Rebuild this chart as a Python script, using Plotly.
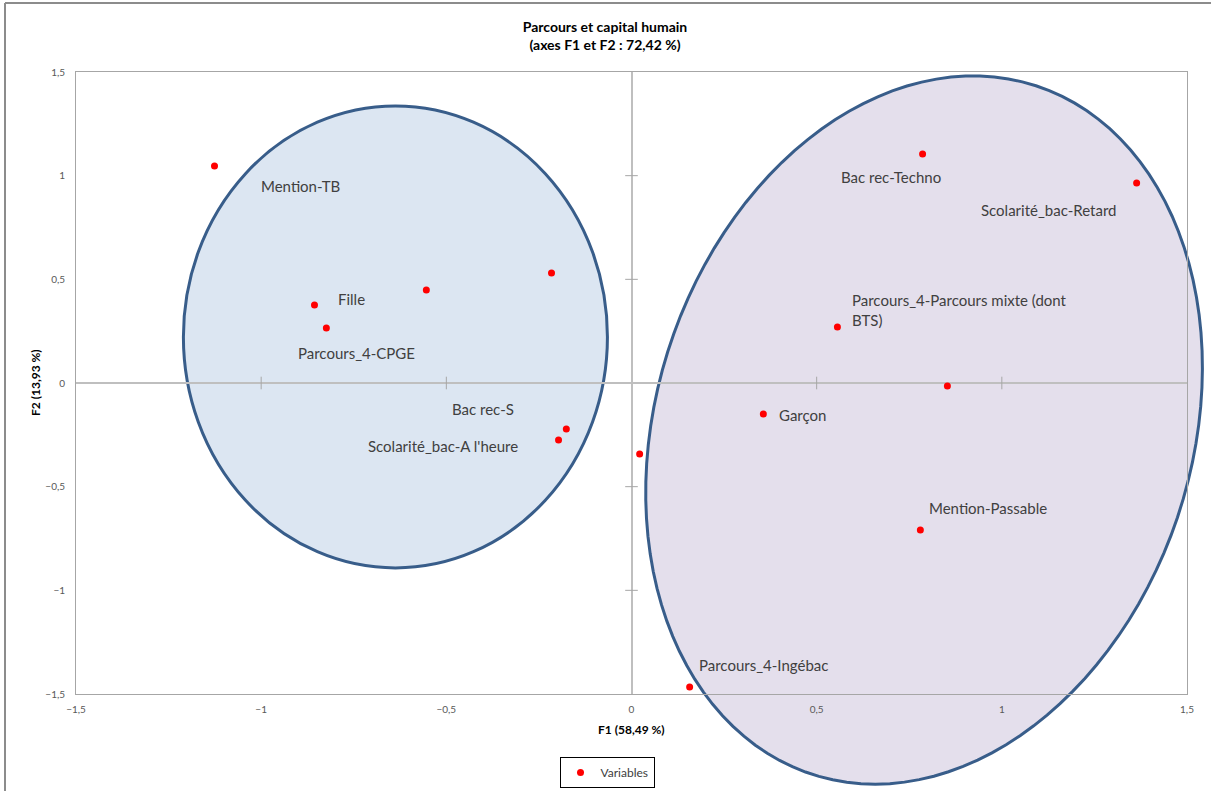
import numpy as np
import plotly.graph_objects as go

# Coordonnées des variables (F1, F2)
var_f1 = [-1.126, -0.856, -0.824, -0.554, -0.216, -0.176, -0.197, 0.022,
          0.356, 0.556, 0.853, 0.780, 0.786, 1.364, 0.157]
var_f2 = [1.047, 0.376, 0.265, 0.449, 0.531, -0.222, -0.275, -0.342,
          -0.150, 0.270, -0.014, -0.709, 1.105, 0.965, -1.466]

# Étiquettes (texte libre, positionné à la main comme dans Excel)
label_text = ["Mention-TB", "Fille", "Parcours_4-CPGE", "Bac rec-S",
              "Scolarité_bac-A l'heure", "Bac rec-Techno", "Scolarité_bac-Retard",
              "Parcours_4-Parcours mixte (dont<br>BTS)", "Garçon",
              "Mention-Passable", "Parcours_4-Ingébac"]
label_x = [-1.005, -0.799, -0.905, -0.491, -0.718, 0.559, 0.937, 0.591, 0.392, 0.799, 0.178]
label_y = [0.950, 0.405, 0.145, -0.125, -0.304, 0.994, 0.835, 0.350, -0.154, -0.603, -1.360]

tick_vals = [-1.5, -1, -0.5, 0, 0.5, 1, 1.5]
cross_ticks = [-1, -0.5, 0.5, 1]

FONT = "Lato, 'Open Sans', sans-serif"
TEXT_COL = "#404040"
EDGE = "#385D8A"

# géométrie de la zone de tracé (px)
W, H = 1211, 791
ML, MR, MT, MB = 76, 24, 72, 97
PW, PH = W - ML - MR, H - MT - MB


def to_px(x, y):
    px = ML + (x + 1.5) / 3 * PW
    py = MT + (1.5 - y) / 3 * PH
    return px, py


def px_to_paper(px, py):
    return (px - ML) / PW, (H - MB - py) / PH


def ellipse_path(cx, cy, a, b, tilt_deg, n=120):
    # ellipse inclinée définie en pixels, renvoyée en coordonnées "paper"
    cxp, cyp = to_px(cx, cy)
    phi = np.radians(tilt_deg)
    t = np.linspace(0, 2 * np.pi, n)
    ux, uy = np.sin(phi), -np.cos(phi)
    vx, vy = np.cos(phi), np.sin(phi)
    px = cxp + a * np.cos(t) * ux + b * np.sin(t) * vx
    py = cyp + a * np.cos(t) * uy + b * np.sin(t) * vy
    xs, ys = px_to_paper(px, py)
    pts = [f"{x:.5f},{y:.5f}" for x, y in zip(xs, ys)]
    return "M " + " L ".join(pts) + " Z"


fig = go.Figure()

# petites graduations sur les axes qui passent par zéro
fig.add_trace(go.Scatter(
    x=[0] * len(cross_ticks), y=cross_ticks, mode='markers',
    marker=dict(symbol='line-ew', size=9, line=dict(color='#A6A6A6', width=1)),
    showlegend=False, hoverinfo='skip'
))
fig.add_trace(go.Scatter(
    x=cross_ticks, y=[0] * len(cross_ticks), mode='markers',
    marker=dict(symbol='line-ns', size=9, line=dict(color='#A6A6A6', width=1)),
    showlegend=False, hoverinfo='skip'
))

fig.add_trace(go.Scatter(
    x=var_f1, y=var_f2, mode='markers', name='Variables',
    marker=dict(color='#FF0000', size=7, line=dict(width=0)),
))

# bordure du graphique Excel (seuls le haut et la gauche sont visibles)
bx0, by0 = px_to_paper(5, 3)
bx1, by1 = px_to_paper(W + 20, H + 20)

shapes = [
    # cercle bleu (groupe de gauche)
    dict(type='circle', xref='x', yref='y', x0=-1.210, x1=-0.065, y0=-0.892, y1=1.336,
         fillcolor='#DCE6F2', line=dict(color=EDGE, width=3), layer='below'),
    # ellipse violette (groupe de droite), déborde de la zone de tracé
    dict(type='path', xref='paper', yref='paper',
         path=ellipse_path(0.790, -0.227, 362, 268, 18),
         fillcolor='#E4DFEC', line=dict(color=EDGE, width=3), layer='below'),
    dict(type='line', xref='paper', yref='paper', x0=bx0, x1=bx1, y0=by0, y1=by0,
         line=dict(color='#8C8C8C', width=2)),
    dict(type='line', xref='paper', yref='paper', x0=bx0, x1=bx0, y0=by0, y1=by1,
         line=dict(color='#8C8C8C', width=2)),
]

annotations = [
    dict(x=x, y=y, xref='x', yref='y', text=t, showarrow=False,
         xanchor='left', yanchor='middle', align='left',
         font=dict(family=FONT, size=15, color=TEXT_COL))
    for t, x, y in zip(label_text, label_x, label_y)
]
ax_x, ax_y = px_to_paper(631, 729)
annotations.append(dict(x=ax_x, y=ax_y, xref='paper', yref='paper',
                        xanchor='center', yanchor='middle',
                        text='<b>F1 (58,49 %)</b>', showarrow=False,
                        font=dict(family=FONT, size=12, color='#000000')))
ay_x, ay_y = px_to_paper(35, 383)
annotations.append(dict(x=ay_x, y=ay_y, xref='paper', yref='paper',
                        xanchor='center', yanchor='middle',
                        text='<b>F2 (13,93 %)</b>', showarrow=False, textangle=-90,
                        font=dict(family=FONT, size=12, color='#000000')))

axis_common = dict(
    range=[-1.5, 1.5], tickmode='array', tickvals=tick_vals,
    showgrid=False, zeroline=True, zerolinecolor='#BFBFBF', zerolinewidth=2,
    showline=True, linecolor='#A6A6A6', linewidth=1, mirror=True,
    ticks='', tickfont=dict(family=FONT, size=10, color='#595959'),
)

fig.update_layout(
    width=W, height=H,
    margin=dict(l=ML, r=MR, t=MT, b=MB, autoexpand=False),
    separators=', ',
    title=dict(text='<b>Parcours et capital humain<br>(axes F1 et F2 : 72,42 %)</b>',
               x=(605 / W), xanchor='center', y=1 - 31.5 / H, yanchor='middle',
               font=dict(family=FONT, size=14, color='#000000')),
    xaxis=dict(**axis_common, ticklabelstandoff=6),
    yaxis=dict(**axis_common, ticklabelstandoff=8),
    plot_bgcolor='rgba(0,0,0,0)',
    paper_bgcolor='white',
    shapes=shapes,
    annotations=annotations,
    legend=dict(x=(607 - ML) / PW, y=1 - 757 / H, yref='container',
                xanchor='center', yanchor='top',
                bgcolor='white', bordercolor='#000000', borderwidth=1,
                font=dict(family=FONT, size=12, color=TEXT_COL), itemwidth=30),
    showlegend=True,
)

fig.write_html("out.html", config=dict(displayModeBar=False),
               post_script="document.body.style.margin='0';"
                           "document.body.style.overflow='hidden';")
